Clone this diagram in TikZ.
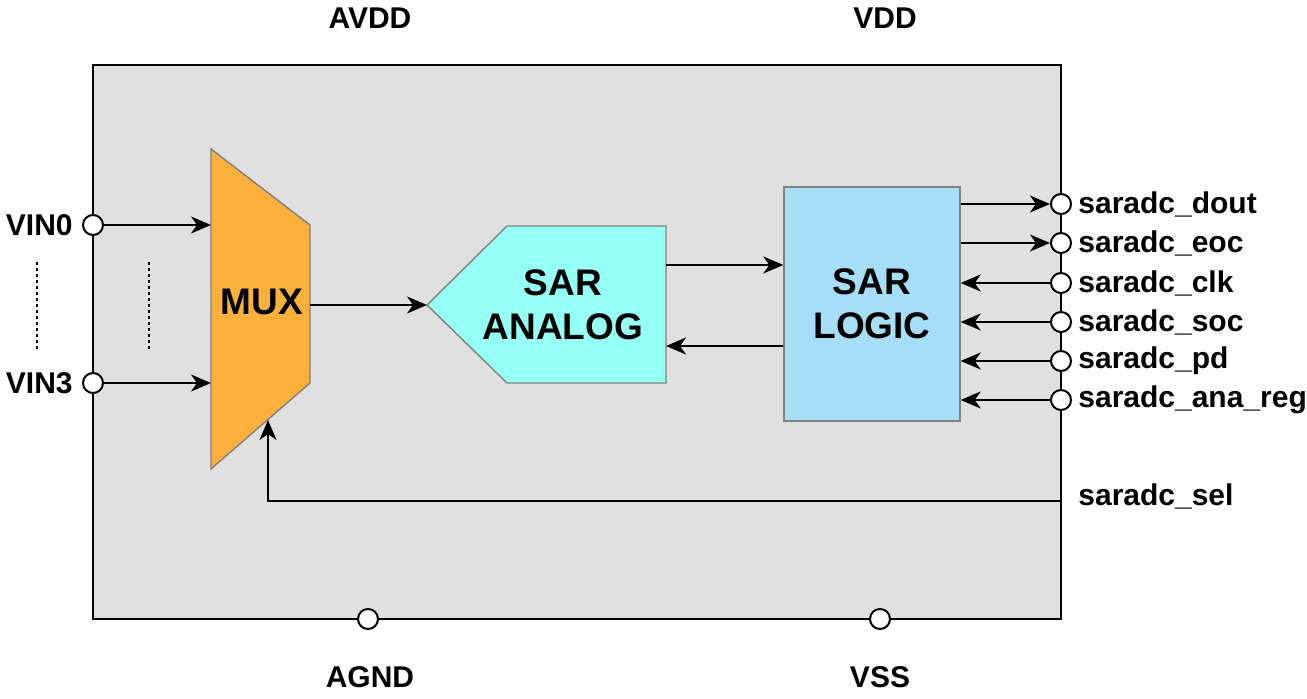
\documentclass[tikz,border=0pt]{standalone}
\usepackage{fontspec}
\setmainfont{Liberation Sans}
\usetikzlibrary{arrows.meta,positioning}

\definecolor{chipgray}{RGB}{224,224,224}
\definecolor{muxorange}{RGB}{251,176,59}
\definecolor{anacyan}{RGB}{150,255,245}
\definecolor{logicblue}{RGB}{166,222,247}

\tikzset{
  pin/.style={circle,draw,fill=white,line width=1pt,minimum size=10pt,inner sep=0pt},
  sig/.style={-{Stealth[length=10pt,width=8.5pt,inset=3pt]},line width=0.9pt},
  blk/.style={draw=gray,line width=0.7pt},
  lbl/.style={font=\bfseries\fontsize{15}{17}\selectfont,inner sep=0pt},
  blktxt/.style={font=\bfseries\fontsize{18.5}{22}\selectfont,align=center}
}

\begin{document}
\begin{tikzpicture}[x=0.5pt,y=-0.5pt]
	\useasboundingbox (0,0) rectangle (1307,699);
	% chip outline
	\draw[fill=chipgray,line width=0.8pt] (93,65) rectangle (1061,619);
	% supply pins
	\node[lbl] (avdd) at (370,18) {AVDD};
	\node[lbl] (vdd) at (885,18) {VDD};
	\node[pin] (agndpin) at (368,619) {};
	\node[pin] (vsspin) at (880,619) {};
	\node[lbl] (agnd) at (370,677) {AGND};
	\node[lbl] (vss) at (880,677) {VSS};
	% analog inputs
	\node[pin] (vin0) at (93,225) {};
	\node[pin] (vin3) at (93,383) {};
	\node[lbl,anchor=east] at (73,225) {VIN0};
	\node[lbl,anchor=east] at (73,383) {VIN3};
	\draw[line width=1pt,dash pattern=on 1.5pt off 1.5pt] (37,262) -- (37,352);
	\draw[line width=1pt,dash pattern=on 1.5pt off 1.5pt] (149,262) -- (149,352);
	% MUX
	\draw[blk,fill=muxorange] (211,149) -- (310,225) -- (310,383) -- (211,469) -- cycle;
	\coordinate (muxin0) at (211,225);
	\coordinate (muxin3) at (211,383);
	\coordinate (muxout) at (310,305);
	\coordinate (muxsel) at (268,420);
	\node[blktxt] (mux) at (262,302) {MUX};
	% SAR ANALOG
	\draw[blk,fill=anacyan] (427,305) -- (507,226) -- (666,226) -- (666,383) -- (507,383) -- cycle;
	\coordinate (anatip) at (427,305);
	\coordinate (anaup) at (666,265);
	\coordinate (anadown) at (666,346);
	\node[blktxt] (ana) at (563,305) {SAR\\ANALOG};
	% SAR LOGIC
	\node[blk,blktxt,fill=logicblue,minimum width=88pt,minimum height=117pt] (logic) at (872,304) {SAR\\LOGIC};
	% datapath
	\draw[sig] (vin0) -- (muxin0);
	\draw[sig] (vin3) -- (muxin3);
	\draw[sig] (muxout) -- (anatip);
	\draw[sig] (anaup) -- (logic.west |- anaup);
	\draw[sig] (logic.west |- anadown) -- (anadown);
	% digital pins
	\foreach \nm/\y [count=\i] in {dout/204,eoc/243,clk/283,soc/322,pd/361,ana\_reg/400}{
		\node[pin] (p\i) at (1061,\y) {};
		\node[lbl,anchor=west] at (1078,\y) {saradc\_\nm};
	}
	\foreach \i in {1,2}
		\draw[sig] (logic.east |- p\i) -- (p\i.west);
	\foreach \i in {3,...,6}
		\draw[sig] (p\i.west) -- (logic.east |- p\i);
	% select
	\coordinate (selpin) at (1061,501);
	\node[lbl,anchor=west] (sel) at (1078,496) {saradc\_sel};
	\draw[sig] (selpin) -- (muxsel |- selpin) -- (muxsel);
\end{tikzpicture}
\end{document}
